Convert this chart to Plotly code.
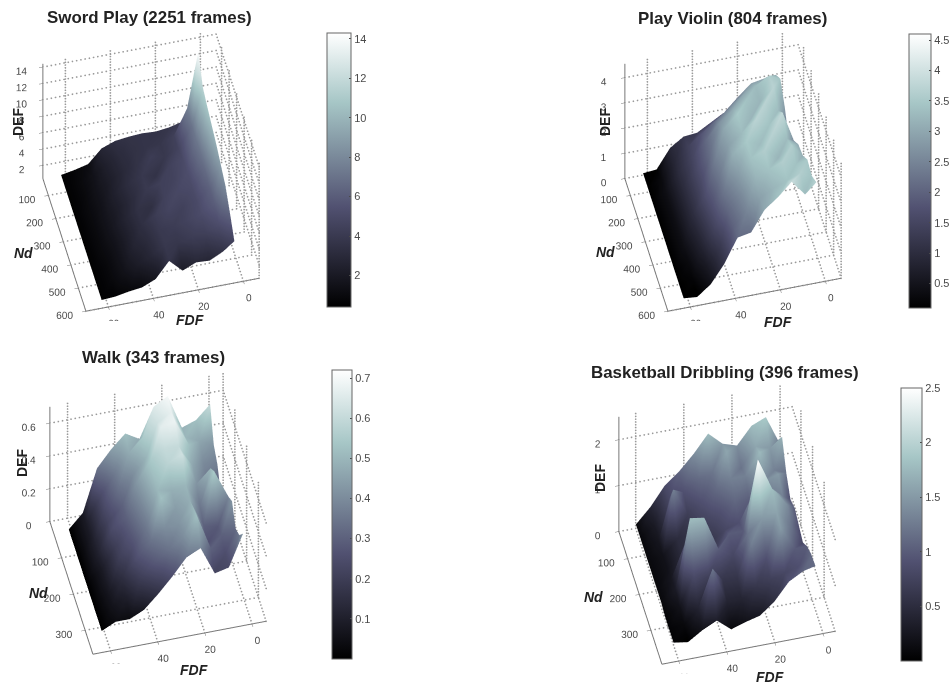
import numpy as np
import plotly.graph_objects as go

W, H = 950, 683

BONE = [[0, "#000000"], [0.365, "#515171"], [0.746, "#a6c6c6"], [1, "#ffffff"]]

# ---- Sword Play
sword_fdf = [62, 56, 50, 44, 38, 32, 26, 20, 14, 8, 3]
sword_nd = [30, 90, 150, 210, 270, 330, 390, 450, 510, 570]
sword_def = [
    [0.5, 0.8, 1.2, 2.8, 3.4, 3.6, 3.7, 3.6, 3.8, 4.2, 5.0],
    [0.5, 0.9, 1.5, 2.4, 3.1, 3.5, 3.7, 3.8, 4.4, 7.5, 14.2],
    [0.5, 0.9, 1.6, 2.3, 3.0, 3.6, 4.2, 3.9, 4.6, 7.0, 11.5],
    [0.5, 1.0, 1.6, 2.5, 3.3, 3.9, 3.6, 4.5, 5.0, 7.2, 10.8],
    [0.5, 1.0, 1.7, 2.4, 3.2, 4.0, 4.4, 4.6, 5.2, 7.0, 10.2],
    [0.5, 1.0, 1.7, 2.6, 3.5, 3.4, 4.5, 4.9, 5.1, 6.6, 9.6],
    [0.5, 1.0, 1.6, 2.5, 3.4, 4.2, 4.7, 4.5, 5.0, 6.2, 8.8],
    [0.5, 0.9, 1.6, 2.6, 3.1, 4.0, 4.2, 4.6, 5.1, 6.0, 8.0],
    [0.5, 0.9, 1.5, 2.2, 2.9, 3.9, 3.8, 4.2, 4.4, 5.2, 6.4],
    [0.5, 0.6, 0.9, 1.1, 1.8, 3.7, 2.2, 2.9, 2.8, 3.6, 4.6],
]
# ---- Play Violin
violin_fdf = [62, 56, 50, 44, 38, 32, 26, 20, 14, 8, 3]
violin_nd = [30, 90, 150, 210, 270, 330, 390, 450, 510, 570]
violin_def = [
    [0.1, 0.15, 0.9, 1.25, 1.3, 1.6, 1.9, 2.4, 2.85, 2.95, 3.0],
    [0.1, 0.3, 0.9, 1.4, 1.8, 2.2, 2.6, 3.0, 3.3, 3.6, 3.4],
    [0.1, 0.4, 1.0, 1.5, 2.1, 2.7, 3.1, 3.4, 3.2, 3.7, 2.8],
    [0.1, 0.4, 1.0, 1.6, 2.2, 3.0, 3.5, 3.2, 3.7, 3.3, 1.9],
    [0.1, 0.4, 1.0, 1.6, 2.4, 2.9, 3.3, 3.7, 3.4, 3.8, 2.6],
    [0.1, 0.4, 1.0, 1.7, 2.3, 3.1, 3.5, 3.3, 3.7, 3.3, 3.0],
    [0.1, 0.4, 0.9, 1.6, 2.3, 2.8, 3.4, 3.6, 3.2, 3.6, 3.1],
    [0.1, 0.3, 0.8, 1.5, 2.1, 2.6, 3.2, 3.4, 3.6, 3.4, 3.5],
    [0.1, 0.2, 0.6, 1.2, 2.0, 2.5, 2.9, 3.2, 3.4, 3.6, 3.4],
    [0.1, 0.05, 0.45, 1.15, 2.1, 2.2, 3.0, 3.4, 3.9, 3.3, 3.7],
]
# ---- Walk
walk_fdf = [61, 55, 49, 43, 37, 31, 25, 19, 13, 7, 1]
walk_nd = [30, 61, 92, 123, 154, 185, 216, 247, 278, 310]
walk_def = [
    [0.0, 0.085, 0.34, 0.44, 0.52, 0.47, 0.65, 0.70, 0.49, 0.52, 0.60],
    [0.0, 0.09, 0.24, 0.36, 0.47, 0.55, 0.62, 0.67, 0.50, 0.46, 0.42],
    [0.0, 0.09, 0.24, 0.34, 0.40, 0.50, 0.66, 0.68, 0.52, 0.40, 0.37],
    [0.0, 0.10, 0.22, 0.30, 0.42, 0.54, 0.60, 0.60, 0.46, 0.36, 0.25],
    [0.0, 0.10, 0.24, 0.30, 0.40, 0.52, 0.58, 0.62, 0.42, 0.50, 0.30],
    [0.0, 0.08, 0.20, 0.28, 0.38, 0.50, 0.48, 0.50, 0.35, 0.55, 0.38],
    [0.0, 0.08, 0.20, 0.26, 0.36, 0.52, 0.44, 0.48, 0.30, 0.28, 0.42],
    [0.0, 0.07, 0.15, 0.26, 0.34, 0.40, 0.42, 0.50, 0.26, 0.30, 0.32],
    [0.0, 0.06, 0.10, 0.20, 0.28, 0.34, 0.40, 0.52, 0.30, 0.25, 0.35],
    [0.0, 0.04, 0.04, 0.08, 0.16, 0.25, 0.35, 0.39, 0.22, 0.24, 0.43],
]
# ---- Basketball Dribbling
ball_fdf = [60, 54, 48, 42, 36, 30, 24, 18, 12, 6, 1]
ball_nd = [26, 62, 98, 134, 170, 206, 242, 278, 314, 350]
ball_def = [
    [0.1, 0.42, 0.83, 1.08, 1.4, 1.78, 1.5, 1.4, 1.77, 1.9, 1.35],
    [0.1, 0.3, 0.8, 0.9, 1.1, 1.2, 1.6, 1.2, 1.6, 1.5, 1.7],
    [0.1, 0.25, 1.3, 0.7, 0.9, 1.1, 1.3, 1.3, 1.75, 1.3, 1.2],
    [0.1, 0.2, 0.5, 0.6, 0.75, 0.9, 1.1, 1.0, 1.4, 1.5, 0.9],
    [0.1, 0.2, 0.5, 0.7, 0.6, 0.8, 0.9, 1.5, 1.2, 1.3, 1.0],
    [0.1, 0.25, 1.0, 0.8, 0.7, 1.0, 1.0, 2.5, 1.8, 1.4, 0.9],
    [0.1, 0.3, 1.8, 1.75, 1.0, 0.8, 1.2, 1.5, 1.6, 1.2, 0.8],
    [0.05, 0.2, 0.9, 0.7, 0.6, 0.6, 1.3, 0.9, 1.5, 1.0, 1.0],
    [0.05, 0.1, 0.4, 1.2, 0.4, 0.4, 0.6, 0.7, 0.8, 0.9, 1.1],
    [0.05, 0.0, 0.2, 0.35, 0.1, 0.2, 0.28, 0.53, 0.9, 1.07, 1.13],
]

fdf_ticks = [0, 20, 40, 60]
panels = [
    dict(title="Sword Play (2251 frames)", fdf=sword_fdf, nd=sword_nd, z=sword_def,
         xr=[-7, 70], yr=[27, 600], zr=[0.4, 14.4], zc=[0.4, 14.3],
         nd_ticks=[100, 200, 300, 400, 500, 600], z_ticks=[2, 4, 6, 8, 10, 12, 14],
         cb_ticks=[2, 4, 6, 8, 10, 12, 14],
         cube=(151, 170.5), cb=(327, 351, 33, 307),
         t=(149, 17), d=(18, 122), n=(23, 253), f=(190, 320)),
    dict(title="Play Violin (804 frames)", fdf=violin_fdf, nd=violin_nd, z=violin_def,
         xr=[-7, 70], yr=[27, 600], zr=[0, 4.55], zc=[0.1, 4.6],
         nd_ticks=[100, 200, 300, 400, 500, 600], z_ticks=[0, 1, 2, 3, 4],
         cb_ticks=[0.5, 1, 1.5, 2, 2.5, 3, 3.5, 4, 4.5],
         cube=(732.5, 171), cb=(909, 931, 34, 308),
         t=(732, 18), d=(605, 122), n=(605, 252), f=(778, 322)),
    dict(title="Walk (343 frames)", fdf=walk_fdf, nd=walk_nd, z=walk_def,
         xr=[-6, 67.5], yr=[0, 366], zr=[0, 0.7], zc=[0, 0.72],
         nd_ticks=[0, 100, 200, 300], z_ticks=[0, 0.2, 0.4, 0.6],
         cb_ticks=[0.1, 0.2, 0.3, 0.4, 0.5, 0.6, 0.7],
         cube=(157.5, 514), cb=(332, 352, 370, 659),
         t=(153, 357), d=(22, 463), n=(38, 593), f=(194, 670)),
    dict(title="Basketball Dribbling (396 frames)", fdf=ball_fdf, nd=ball_nd, z=ball_def,
         xr=[-5, 67], yr=[24, 395], zr=[0, 2.5], zc=[0, 2.5],
         nd_ticks=[100, 200, 300], z_ticks=[0, 1, 2],
         cb_ticks=[0.5, 1, 1.5, 2, 2.5],
         cube=(726.5, 524), cb=(901, 922, 388, 661),
         t=(725, 372), d=(600, 478), n=(593, 597), f=(770, 677)),
]

HALF = 150
EYE = dict(x=0.155, y=0.624, z=0.766)
ASPECT = 1.19
GRID = "#9a9a9a"
INK = "#4a4a4a"
DOTS = 42


def grid_dots(p):
    """Dotted MATLAB-like grid on the floor, back wall and right wall."""
    xs, ys, zs = [], [], []
    x0, x1 = p["xr"]; y0, y1 = p["yr"]; z0, z1 = p["zr"]
    def seg(a, b):
        xs.extend(np.linspace(a[0], b[0], DOTS))
        ys.extend(np.linspace(a[1], b[1], DOTS))
        zs.extend(np.linspace(a[2], b[2], DOTS))
    for t in fdf_ticks:
        seg((t, y0, z0), (t, y1, z0))
        seg((t, y0, z0), (t, y0, z1))
    for t in p["nd_ticks"]:
        seg((x0, t, z0), (x1, t, z0))
        seg((x0, t, z0), (x0, t, z1))
    for t in p["z_ticks"]:
        seg((x1, y0, t), (x0, y0, t))
        seg((x0, y0, t), (x0, y1, t))
    return xs, ys, zs


def mesh(p):
    gx, gy = np.meshgrid(p["fdf"], p["nd"])
    gz = np.array(p["z"], float)
    rows, cols = gz.shape
    idx = np.arange(rows * cols).reshape(rows, cols)
    a = idx[:-1, :-1].ravel(); b = idx[:-1, 1:].ravel()
    c = idx[1:, :-1].ravel(); d = idx[1:, 1:].ravel()
    return (gx.ravel(), gy.ravel(), gz.ravel(),
            np.r_[a, b], np.r_[b, d], np.r_[c, c])


fig = go.Figure()
annotations = []
layout_scenes = {}

for n, p in enumerate(panels, start=1):
    name = "scene" if n == 1 else f"scene{n}"
    cx, cy = p["cube"]
    l, r, top, bot = p["cb"]
    mx, my, mz, i, j, k = mesh(p)
    fig.add_trace(go.Mesh3d(
        x=mx, y=my, z=mz, i=i, j=j, k=k, intensity=mz, scene=name,
        colorscale=BONE, cmin=p["zc"][0], cmax=p["zc"][1],
        flatshading=False,
        lighting=dict(ambient=1, diffuse=0, specular=0, fresnel=0),
        hoverinfo="skip",
        colorbar=dict(
            x=l / W, xanchor="left", xpad=0, ypad=0,
            y=1 - bot / H, yanchor="bottom", len=(bot - top) / H, lenmode="fraction",
            thickness=r - l, thicknessmode="pixels",
            tickvals=p["cb_ticks"], ticks="inside", ticklen=2, tickcolor=INK,
            tickfont=dict(family="Liberation Sans", size=11, color=INK),
            outlinecolor="#666666", outlinewidth=1, borderwidth=0,
        ),
    ))
    gx, gy, gz = grid_dots(p)
    fig.add_trace(go.Scatter3d(
        x=gx, y=gy, z=gz, scene=name, mode="markers",
        marker=dict(color=GRID, size=1, line=dict(width=0)),
        hoverinfo="skip", showlegend=False,
    ))
    axis = dict(showbackground=False, showgrid=False, zeroline=False, showspikes=False,
                showline=True, linecolor="#777777", linewidth=2,
                ticks="inside", ticklen=4, tickcolor="#777777", tickangle=0,
                tickfont=dict(family="Liberation Sans", size=11, color=INK),
                title=dict(text=""))
    layout_scenes[name] = dict(
        domain=dict(x=[(cx - HALF) / W, (cx + HALF) / W],
                    y=[1 - (cy + HALF) / H, 1 - (cy - HALF) / H]),
        xaxis=dict(axis, range=p["xr"], tickvals=fdf_ticks),
        yaxis=dict(axis, range=p["yr"], tickvals=p["nd_ticks"]),
        zaxis=dict(axis, range=p["zr"], tickvals=p["z_ticks"]),
        aspectmode="manual", aspectratio=dict(x=ASPECT, y=ASPECT, z=ASPECT),
        camera=dict(eye=EYE, up=dict(x=0, y=0, z=1), center=dict(x=0, y=0, z=0),
                    projection=dict(type="orthographic")),
    )

    def note(text, pos, size, angle=0):
        annotations.append(dict(
            text=text, x=pos[0] / W, y=1 - pos[1] / H, xref="paper", yref="paper",
            showarrow=False, xanchor="center", yanchor="middle", textangle=angle,
            font=dict(family="Liberation Sans", size=size, color="#222222"),
        ))
    note(f"<b>{p['title']}</b>", p["t"], 16.9)
    note("<b>DEF</b>", p["d"], 14, -90)
    note("<b><i>Nd</i></b>", p["n"], 14)
    note("<b><i>FDF</i></b>", p["f"], 14)

fig.update_layout(
    width=W, height=H, margin=dict(l=0, r=0, t=0, b=0, autoexpand=False), autosize=False,
    paper_bgcolor="white", showlegend=False, annotations=annotations,
    **layout_scenes,
)
fig.write_html("out.html", config=dict(displayModeBar=False),
               post_script="document.body.style.margin='0';")
